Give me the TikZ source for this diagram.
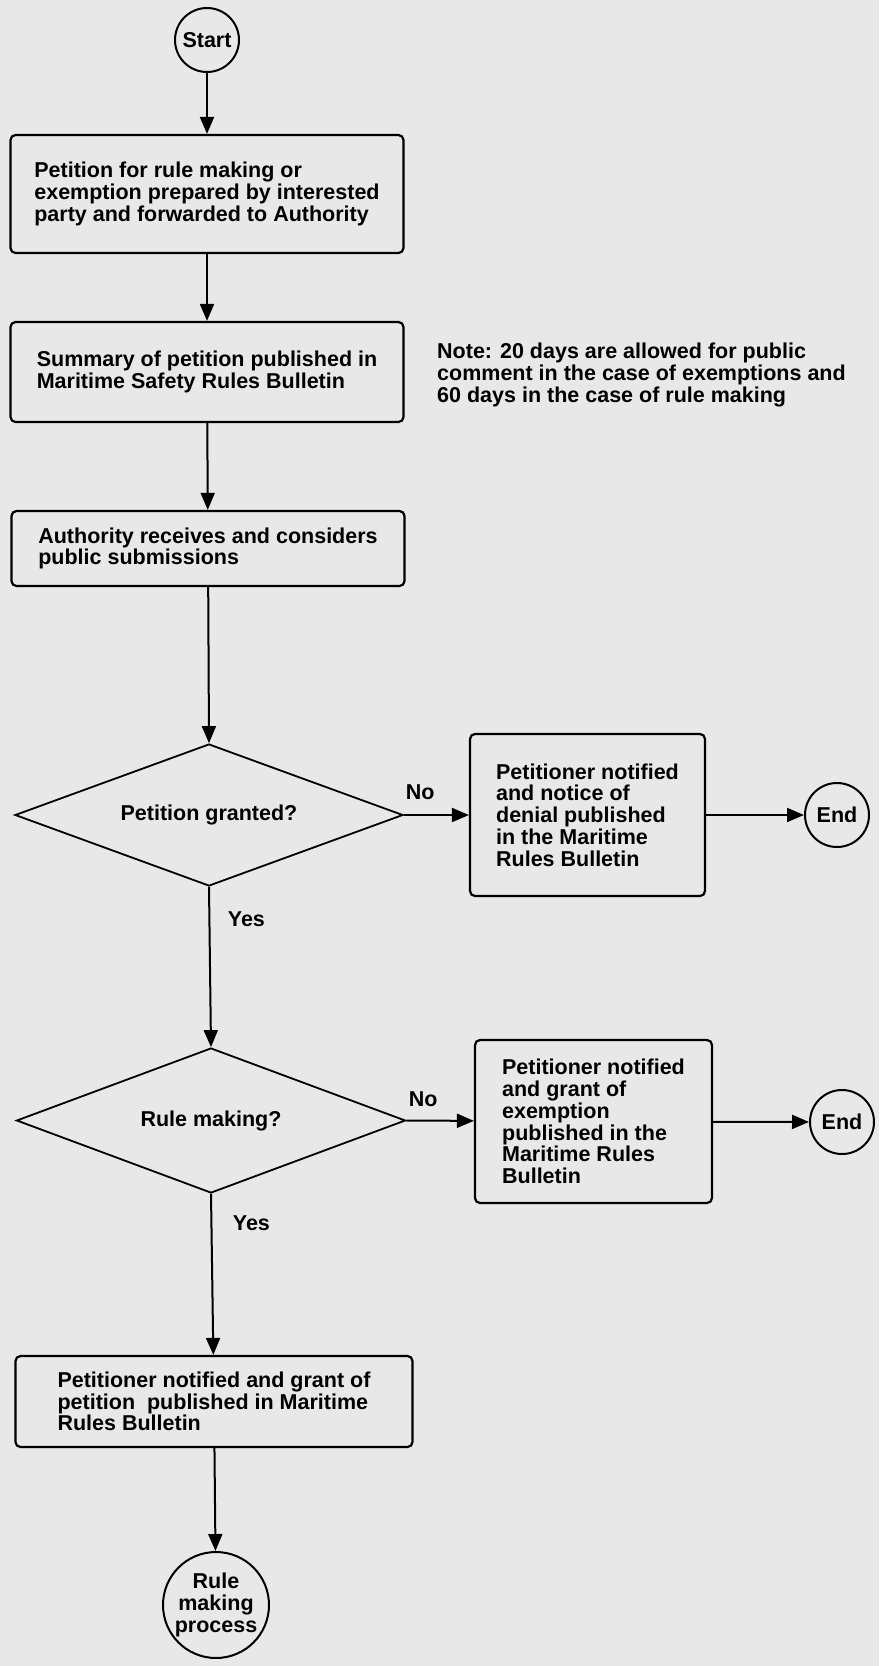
\documentclass[tikz,border=0pt]{standalone}
\usepackage{fontspec}
\setmainfont{Liberation Sans}
\usetikzlibrary{shapes.geometric,arrows.meta}
\definecolor{bg}{HTML}{E8E8E8}
\newcommand{\dfont}{\bfseries\fontsize{21.5}{21.7}\selectfont}
\tikzset{
  every node/.style={font=\dfont},
  box/.style={draw, rounded corners=5pt, line width=2.2pt, align=left, inner sep=0pt},
  dec/.style={diamond, draw, line width=1.8pt, aspect=2.7, inner sep=0pt},
  term/.style={circle, draw, line width=2pt, inner sep=0pt, align=center},
  arr/.style={line width=2pt, -{Triangle[length=17pt,width=14pt]}},
  lab/.style={inner sep=0pt},
}
\begin{document}
\begin{tikzpicture}[x=1pt,y=-1pt]
\useasboundingbox[fill=bg] (0,0) rectangle (879,1666);

\node[term, minimum size=64pt] (start) at (207,40) {Start};
\node[box, minimum width=393pt, minimum height=118pt] (b1) at (207,194)
  {Petition for rule making or\\exemption prepared by interested\\party and forwarded to Authority};
\node[box, minimum width=393pt, minimum height=100pt] (b2) at (207,372)
  {Summary of petition published in\\Maritime Safety Rules Bulletin};
\node[lab, anchor=west, align=left] (note) at (437,375)
  {Note: 20 days are allowed for public\\comment in the case of exemptions and\\60 days in the case of rule making};
\node[box, minimum width=393pt, minimum height=75pt] (b3) at (208,548.5)
  {Authority receives and considers\\public submissions};
\node[dec, minimum width=388pt, minimum height=142pt] (d1) at (209,815) {Petition granted?};
\node[box, minimum width=235pt, minimum height=162pt] (b4) at (587.5,815)
  {Petitioner notified\\and notice of\\denial published\\in the Maritime\\Rules Bulletin};
\node[term, minimum size=64pt] (end1) at (837,815) {End};
\node[dec, minimum width=389pt, minimum height=145pt] (d2) at (211,1120.5) {Rule making?};
\node[box, minimum width=237pt, minimum height=163pt] (b5) at (593.5,1121.5)
  {Petitioner notified\\and grant of\\exemption\\published in the\\Maritime Rules\\Bulletin};
\node[term, minimum size=64pt] (end2) at (842,1122) {End};
\node[box, minimum width=397pt, minimum height=91pt] (b6) at (214,1401.5)
  {Petitioner notified and grant of\\petition\ \ published in Maritime\\Rules Bulletin};
\node[term, minimum size=106pt] (rmp) at (216,1605) {Rule\\making\\process};

\draw[arr] (start) -- (b1);
\draw[arr] (b1) -- (b2);
\draw[arr] (b2) -- (b3);
\draw[arr] (b3) -- (d1.north);
\draw[arr] (d1.east) -- node[lab, pos=0.25, yshift=23pt] (no1) {No} (b4);
\draw[arr] (b4) -- (end1);
\draw[arr] (d1.south) -- node[lab, pos=0.2, xshift=37pt] (yes1) {Yes} (d2.north);
\draw[arr] (d2.east) -- node[lab, pos=0.25, yshift=21pt] (no2) {No} (b5);
\draw[arr] (b5) -- (end2);
\draw[arr] (d2.south) -- node[lab, pos=0.18, xshift=40pt] (yes2) {Yes} (b6);
\draw[arr] (b6) -- (rmp);
\end{tikzpicture}
\end{document}
